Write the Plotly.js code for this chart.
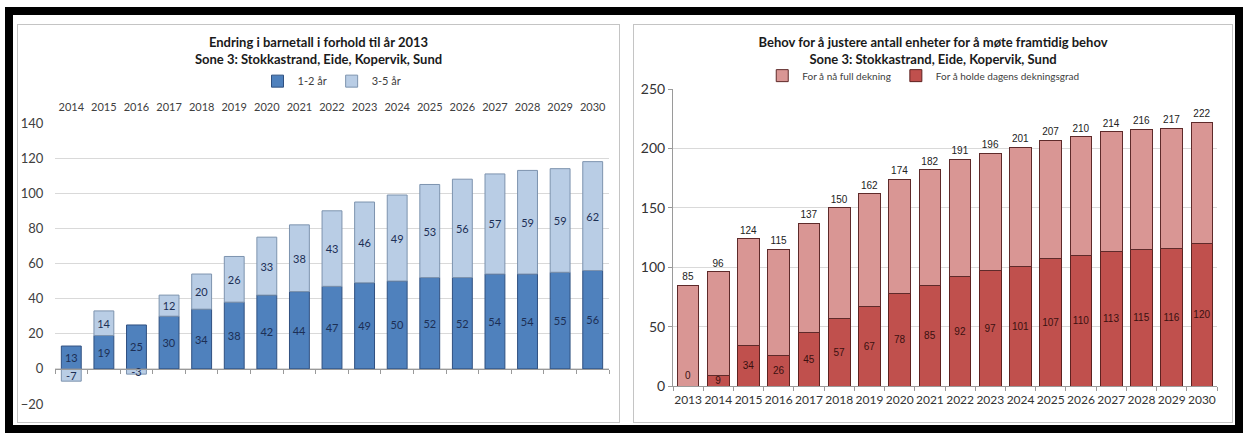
<!DOCTYPE html>
<html>
<head>
<meta charset="utf-8">
<script src="https://cdn.plot.ly/plotly-3.0.1.min.js"></script>
<style>
  html, body { margin: 0; padding: 0; background: #fff; width: 1245px; height: 434px; overflow: hidden; }
  #frame { position: absolute; left: 5px; top: 7px; width: 1238px; height: 426px; box-sizing: border-box; border: 8px solid #000; background: #fff; }
  .panel { position: absolute; top: 24px; height: 399px; box-sizing: border-box; border: 1px solid #c4c4c4; background: #fff; }
  #pA { left: 17px; width: 603px; }
  #pB { left: 633px; width: 600px; }
</style>
</head>
<body>
<div id="frame"></div>
<div class="panel" id="pA"><div id="chartA"></div></div>
<div class="panel" id="pB"><div id="chartB"></div></div>
<script>
// ---- Left chart data ----
const yearsA = ['2014','2015','2016','2017','2018','2019','2020','2021','2022','2023','2024','2025','2026','2027','2028','2029','2030'];
const age12 = [13, 19, 25, 30, 34, 38, 42, 44, 47, 49, 50, 52, 52, 54, 54, 55, 56];
const age35 = [-7, 14, -3, 12, 20, 26, 33, 38, 43, 46, 49, 53, 56, 57, 59, 59, 62];
const yTicksA = [-20, 0, 20, 40, 60, 80, 100, 120, 140];

// ---- Right chart data ----
const yearsB = ['2013','2014','2015','2016','2017','2018','2019','2020','2021','2022','2023','2024','2025','2026','2027','2028','2029','2030'];
const totalB = [85, 96, 124, 115, 137, 150, 162, 174, 182, 191, 196, 201, 207, 210, 214, 216, 217, 222];
const holdeB = [0, 9, 34, 26, 45, 57, 67, 78, 85, 92, 97, 101, 107, 110, 113, 115, 116, 120];
const yTicksB = [0, 50, 100, 150, 200, 250];

const fullB = totalB.map((t, i) => t - holdeB[i]);

const titleFont = { family: 'Lato', size: 13, color: '#1a1a1a' };

// ---------- Chart A ----------
const tracesA = [
  { type: 'bar', name: '1-2 år', x: yearsA, y: age12,
    marker: { color: '#4F81BD', line: { color: '#2f5080', width: 1 } },
    text: age12.map(String), textposition: 'inside', insidetextanchor: 'middle', textangle: 0,
    textfont: { family: 'Lato', size: 11, color: '#1c2f55' }, hoverinfo: 'skip' },
  { type: 'bar', name: '3-5 år', x: yearsA, y: age35,
    marker: { color: '#B9CDE5', line: { color: '#7d93ae', width: 1 } },
    text: age35.map(String), textposition: 'inside', insidetextanchor: 'middle', textangle: 0,
    textfont: { family: 'Lato', size: 11, color: '#1c2f55' }, hoverinfo: 'skip' },
  { type: 'scatter', mode: 'none', x: yearsA, y: yearsA.map(() => null), xaxis: 'x2',
    showlegend: false, hoverinfo: 'skip' }
];
const layoutA = {
  width: 601, height: 397,
  margin: { l: 37, r: 10, t: 98, b: 18 },
  barmode: 'relative', bargap: 0.39,
  paper_bgcolor: '#fff', plot_bgcolor: '#fff',
  font: { family: 'Lato', color: '#404040' },
  title: { text: '<b>Endring i barnetall i forhold til år 2013</b><br><b>Sone 3: Stokkastrand, Eide, Kopervik, Sund</b>',
           font: titleFont, x: 0.5, xref: 'container', xanchor: 'center',
           y: 0.945, yref: 'container', yanchor: 'top' },
  legend: { orientation: 'h', x: 0.5, xanchor: 'center', y: 1.149, yanchor: 'middle',
            font: { family: 'Lato', size: 11, color: '#404040' }, traceorder: 'normal', itemwidth: 30 },
  showlegend: true,
  xaxis: { type: 'category', side: 'top', categoryorder: 'array', categoryarray: yearsA,
           range: [-0.5, 16.5], showline: false, showgrid: false, zeroline: false, ticks: '',
           ticklabelstandoff: 9, tickfont: { family: 'Lato', size: 11, color: '#404040' } },
  xaxis2: { type: 'category', overlaying: 'x', anchor: 'free', position: 0.125, side: 'bottom',
            categoryorder: 'array', categoryarray: yearsA, range: [-0.5, 16.5],
            showline: true, linecolor: '#9a9a9a', linewidth: 1, ticks: 'outside', ticklen: 4,
            tickcolor: '#9a9a9a', tickson: 'boundaries', showticklabels: false, showgrid: false, zeroline: false },
  yaxis: { range: [-20, 140], tickvals: yTicksA, showgrid: true, gridcolor: '#d9d9d9', zeroline: false,
           showline: false, ticks: 'outside', ticklen: 8, tickcolor: 'rgba(0,0,0,0)',
           tickfont: { family: 'Lato', size: 13, color: '#404040' } },
  uniformtext: { mode: 'show', minsize: 11 }
};
Plotly.newPlot('chartA', tracesA, layoutA, { displayModeBar: false, staticPlot: true });

// ---------- Chart B ----------
// zero-height bars cannot carry inside text, so their label is drawn as an annotation at the data point
const zeroAnn = holdeB.map((v, i) => ({ i, v })).filter(d => d.v === 0).map(d => ({
  x: d.i, y: d.v, xref: 'x', yref: 'y', text: String(d.v), showarrow: false,
  yanchor: 'bottom', yshift: 3, font: { family: 'Liberation Sans', size: 10, color: '#3a1010' }
}));
const tracesB = [
  { type: 'bar', name: 'For å holde dagens dekningsgrad', x: yearsB, y: holdeB, legendrank: 2,
    marker: { color: '#C0504D', line: { color: '#5e2220', width: 1 } },
    text: holdeB.map(String), textposition: 'inside', insidetextanchor: 'middle', textangle: 0,
    textfont: { family: 'Liberation Sans', size: 10, color: '#3a1010' }, hoverinfo: 'skip' },
  { type: 'bar', name: 'For å nå full dekning', x: yearsB, y: fullB, legendrank: 1,
    marker: { color: '#D99694', line: { color: '#5e2a2a', width: 1 } },
    text: totalB.map(String), textposition: 'outside', textangle: 0, cliponaxis: false,
    textfont: { family: 'Liberation Sans', size: 10, color: '#222' }, hoverinfo: 'skip' }
];
const layoutB = {
  width: 598, height: 397,
  margin: { l: 39, r: 15, t: 63.5, b: 36, autoexpand: false },
  barmode: 'stack', bargap: 0.28,
  paper_bgcolor: '#fff', plot_bgcolor: '#fff',
  font: { family: 'Lato', color: '#404040' },
  title: { text: '<b>Behov for å justere antall enheter for å møte framtidig behov</b><br><b>Sone 3: Stokkastrand, Eide, Kopervik, Sund</b>',
           font: titleFont, x: 0.5, xref: 'container', xanchor: 'center',
           y: 0.945, yref: 'container', yanchor: 'top' },
  legend: { orientation: 'h', x: 0.46, xanchor: 'center', y: 1.045, yanchor: 'middle', traceorder: 'normal',
            font: { family: 'Lato', size: 10, color: '#404040' }, itemwidth: 30 },
  showlegend: true,
  xaxis: { type: 'category', categoryorder: 'array', categoryarray: yearsB, range: [-0.5, 17.5],
           showline: true, linecolor: '#9a9a9a', ticks: 'outside', ticklen: 4, tickcolor: '#9a9a9a',
           tickson: 'boundaries', showgrid: false, zeroline: false, ticklabelstandoff: 3, tickangle: 0,
           tickfont: { family: 'Lato', size: 12, color: '#333' } },
  yaxis: { range: [0, 250], tickvals: yTicksB, showgrid: true, gridcolor: '#d9d9d9', zeroline: false,
           showline: true, linecolor: '#9a9a9a', ticks: 'outside', ticklen: 4, tickcolor: '#9a9a9a',
           tickfont: { family: 'Lato', size: 14, color: '#333' } },
  annotations: zeroAnn,
  uniformtext: { mode: 'show', minsize: 10 }
};
Plotly.newPlot('chartB', tracesB, layoutB, { displayModeBar: false, staticPlot: true });
</script>
</body>
</html>
